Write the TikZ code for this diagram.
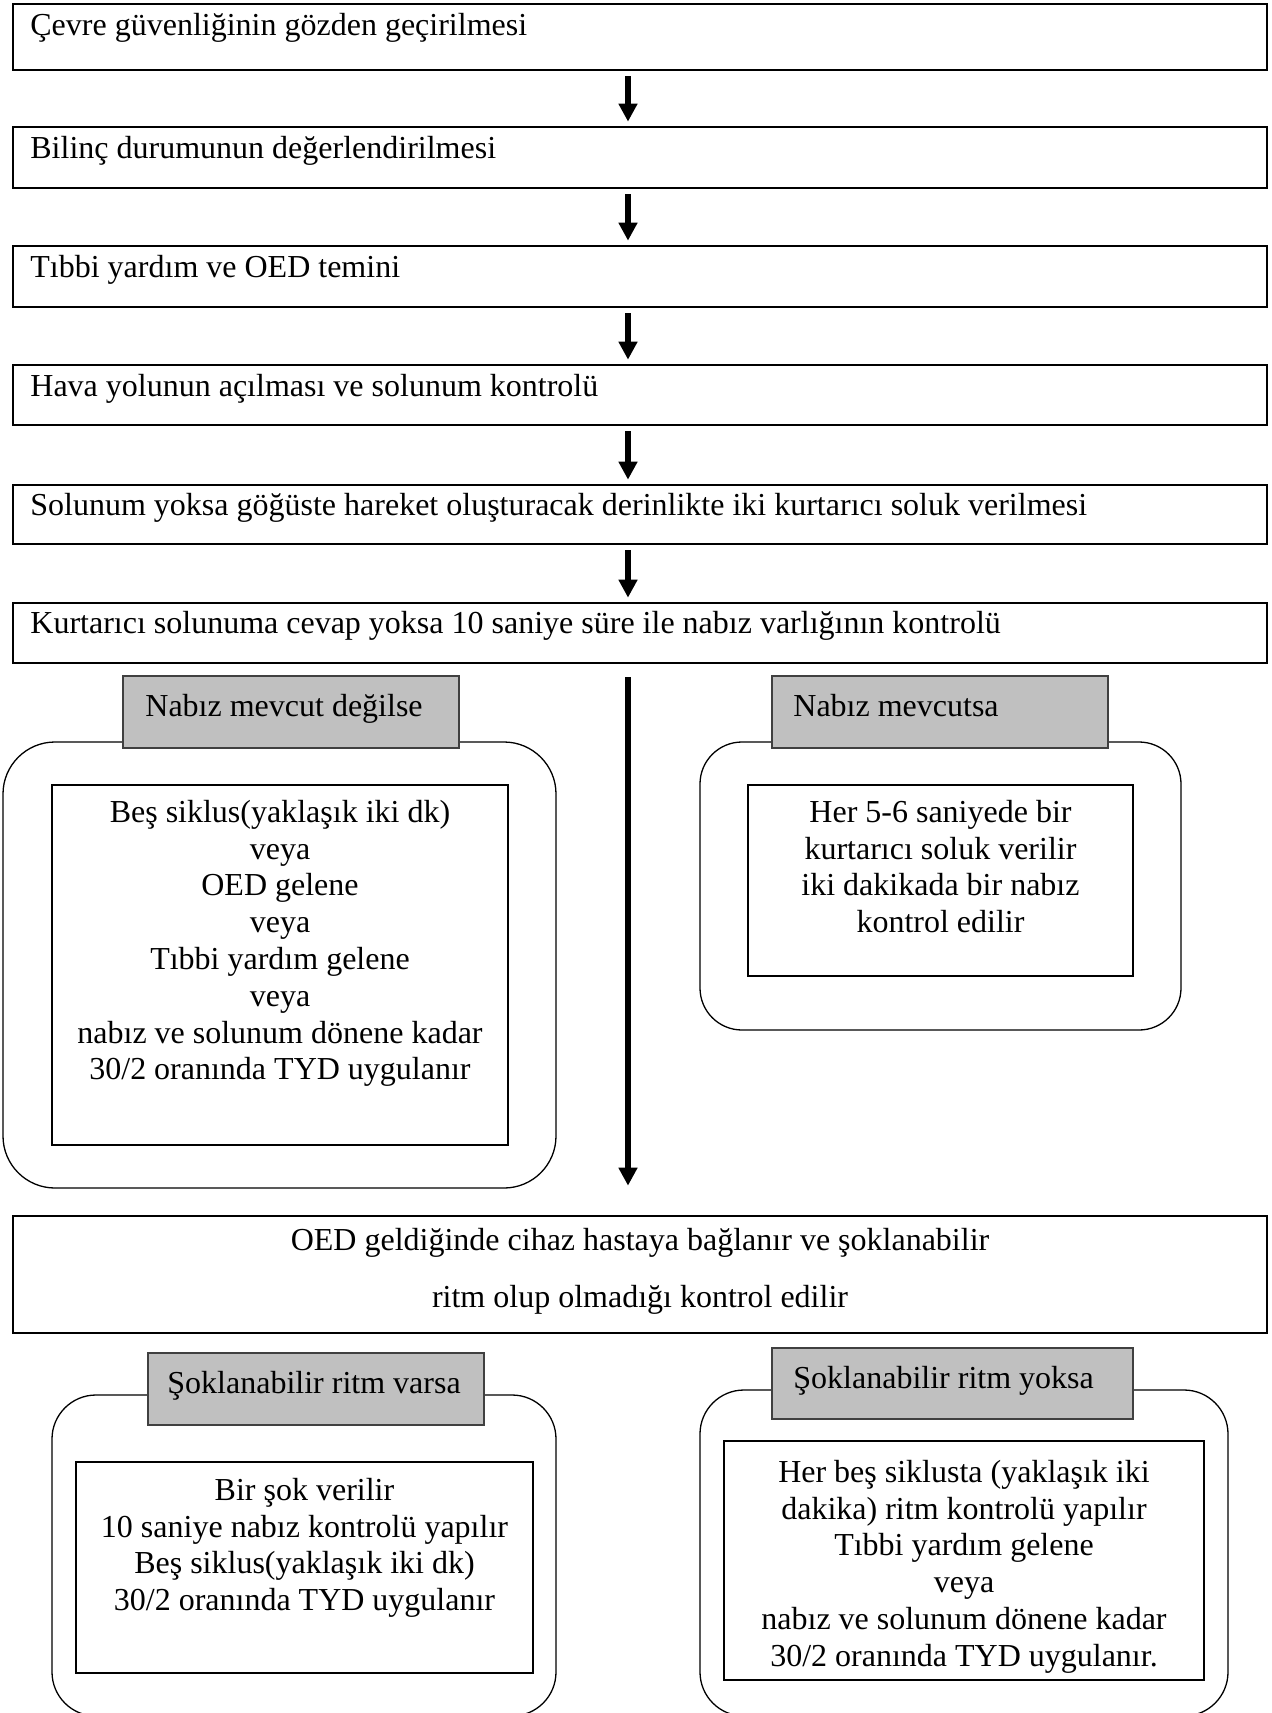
\documentclass[tikz,border=0pt]{standalone}
\usepackage{fontspec}
\setmainfont{Liberation Serif}
\usetikzlibrary{arrows.meta,calc}
\definecolor{tagfill}{HTML}{C0C0C0}
\newcommand\diagfont{\fontsize{16pt}{18.4pt}\selectfont}
\begin{document}
\begin{tikzpicture}[x=0.5pt,y=-0.5pt,
  stepbox/.style={draw,line width=1.35pt,minimum width=627pt,inner sep=0pt},
  tagbox/.style={draw=black!75,fill=tagfill,line width=0.9pt,inner sep=0pt},
  roundbox/.style={draw,line width=0.65pt,rounded corners=#1,inner sep=0pt},
  innerbox/.style={draw,line width=0.9pt,inner sep=0pt},
  lbl/.style={inner sep=0pt,font=\diagfont,anchor=base west},
  ctext/.style={inner sep=0pt,align=center,anchor=north,font=\diagfont},
  arr/.style={line width=2.8pt,-{Triangle[width=9pt,length=9pt]}},
]
\path[use as bounding box, clip] (0,0) rectangle (1271,1713);
\fill[white] (0,0) rectangle (1271,1713);

% top chain of boxes
\node[stepbox,minimum height=33pt]   (b1) at (640,37) {};
\node[stepbox,minimum height=30.5pt] (b2) at (640,157.5) {};
\node[stepbox,minimum height=30.5pt] (b3) at (640,276.5) {};
\node[stepbox,minimum height=30pt]   (b4) at (640,395) {};
\node[stepbox,minimum height=29.5pt] (b5) at (640,514.5) {};
\node[stepbox,minimum height=30pt]   (b6) at (640,633) {};

\node[lbl] (l1) at (30,35)  {Çevre güvenliğinin gözden geçirilmesi};
\node[lbl] (l2) at (30,158) {Bilinç durumunun değerlendirilmesi};
\node[lbl] (l3) at (30,277) {Tıbbi yardım ve OED temini};
\node[lbl] (l4) at (30,396) {Hava yolunun açılması ve solunum kontrolü};
\node[lbl] (l5) at (30,515) {Solunum yoksa göğüste hareket oluşturacak derinlikte iki kurtarıcı soluk verilmesi};
\node[lbl] (l6) at (30,633) {Kurtarıcı solunuma cevap yoksa 10 saniye süre ile nabız varlığının kontrolü};

\coordinate (ax) at (628,0);
\draw[arr] ($(b1.south -| ax)+(0,5)$) -- ($(b2.north -| ax)+(0,-4)$);
\draw[arr] ($(b2.south -| ax)+(0,5)$) -- ($(b3.north -| ax)+(0,-4)$);
\draw[arr] ($(b3.south -| ax)+(0,5)$) -- ($(b4.north -| ax)+(0,-4)$);
\draw[arr] ($(b4.south -| ax)+(0,5)$) -- ($(b5.north -| ax)+(0,-4)$);
\draw[arr] ($(b5.south -| ax)+(0,5)$) -- ($(b6.north -| ax)+(0,-4)$);

% middle section
\node[roundbox=26pt,minimum width=276.5pt,minimum height=223pt] (r1) at (279.5,965) {};
\node[roundbox=21pt,minimum width=240.5pt,minimum height=144pt] (r2) at (940.5,886) {};
\node[tagbox,minimum width=168pt,minimum height=36pt] (g1) at (291,712) {};
\node[tagbox,minimum width=168pt,minimum height=36pt] (g2) at (940,712) {};
\node[lbl] (gl1) at (145,716) {Nabız mevcut değilse};
\node[lbl] (gl2) at (793,716) {Nabız mevcutsa};

\node[innerbox,minimum width=228pt,minimum height=180pt] (i1) at (280,965) {};
\node[innerbox,minimum width=192.5pt,minimum height=95.5pt] (i2) at (940.5,880.5) {};
\node[ctext] (it1) at (280,796.2) {\strut Beş siklus(yaklaşık iki dk)\\veya\\OED gelene\\veya\\Tıbbi yardım gelene\\veya\\nabız ve solunum dönene kadar\\30/2 oranında TYD uygulanır};
\node[ctext] (it2) at (940.5,796.2) {\strut Her 5-6 saniyede bir\\kurtarıcı soluk verilir\\iki dakikada bir nabız\\kontrol edilir};

\node[stepbox,minimum height=58.5pt] (b7) at (640,1274.5) {};
\node[ctext] (l7) at (640,1224.2) {\strut OED geldiğinde cihaz hastaya bağlanır ve şoklanabilir\\[10.1pt]ritm olup olmadığı kontrol edilir};
\draw[arr] ($(b6.south -| ax)+(0,13)$) -- ($(b7.north -| ax)+(0,-29)$);

% bottom section
\node[roundbox=22pt,minimum width=252pt,minimum height=160.5pt] (r3) at (304,1555.5) {};
\node[roundbox=22pt,minimum width=264pt,minimum height=163pt] (r4) at (964,1553) {};
\node[tagbox,minimum width=168pt,minimum height=36pt] (g3) at (316,1389) {};
\node[tagbox,minimum width=180.5pt,minimum height=35.5pt] (g4) at (952.5,1383.5) {};
\node[lbl] (gl3) at (167,1393) {Şoklanabilir ritm varsa};
\node[lbl] (gl4) at (793,1388) {Şoklanabilir ritm yoksa};

\node[innerbox,minimum width=228.5pt,minimum height=105.5pt] (i3) at (304.5,1567.5) {};
\node[innerbox,minimum width=240pt,minimum height=119.5pt] (i4) at (964,1560.5) {};
\node[ctext] (it3) at (304.5,1474.2) {\strut Bir şok verilir\\10 saniye nabız kontrolü yapılır\\Beş siklus(yaklaşık iki dk)\\30/2 oranında TYD uygulanır};
\node[ctext] (it4) at (964,1456.2) {\strut Her beş siklusta (yaklaşık iki\\dakika) ritm kontrolü yapılır\\Tıbbi yardım gelene\\veya\\nabız ve solunum dönene kadar\\30/2 oranında TYD uygulanır.};
\end{tikzpicture}
\end{document}
